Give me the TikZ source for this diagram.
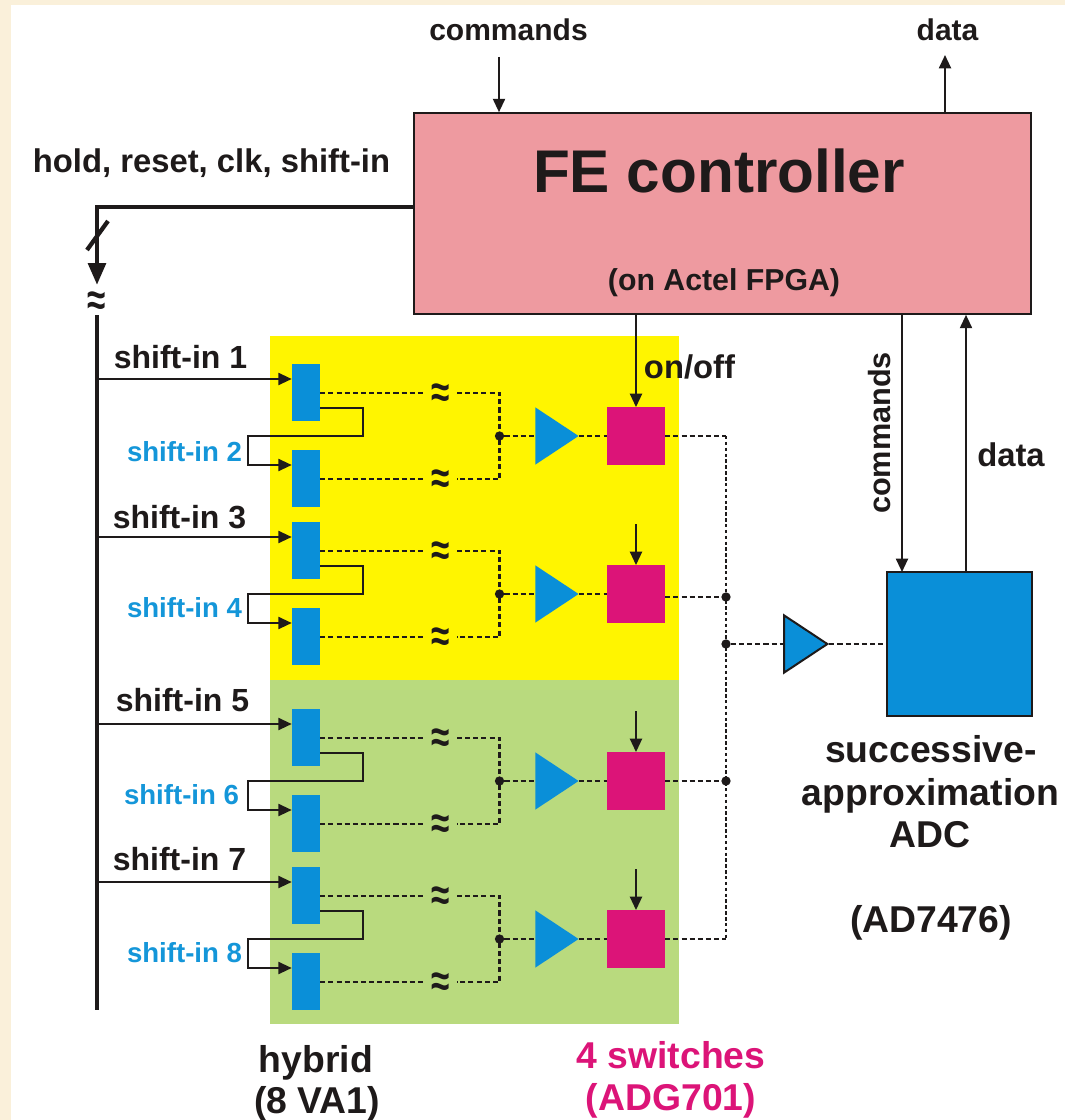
\documentclass[tikz,border=0pt]{standalone}
\usepackage{fontspec}
\setmainfont{Liberation Sans}
\usetikzlibrary{arrows.meta,shapes.geometric}
\definecolor{cream}{HTML}{FAF0DA}
\definecolor{fepink}{HTML}{EE9AA0}
\definecolor{ink}{HTML}{1E1A1A}
\definecolor{cblue}{HTML}{0A8FD8}
\definecolor{tblue}{HTML}{1496D9}
\definecolor{cmag}{HTML}{DC1478}
\definecolor{cyel}{HTML}{FFF500}
\definecolor{cgrn}{HTML}{B9DA7E}
\def\fsz#1{\fontsize{#1}{#1}\selectfont}
\def\apxglyph{\scalebox{1}[1.35]{≈}}
\tikzset{
 x=0.75pt,y=-0.75pt,
 lab/.style={anchor=base,inner sep=0,text=ink,font=\bfseries\fsz{24.6}},
 labtop/.style={lab,font=\bfseries\fsz{22.5}},
 labsh/.style={lab,font=\bfseries\fsz{24}},
 labblue/.style={lab,text=tblue,font=\bfseries\fsz{20.7}},
 labbig/.style={lab,font=\bfseries\fsz{28}},
 apx/.style={inner sep=0,text=ink,font=\bfseries\fsz{25}},
 hyb/.style={fill=cblue,inner sep=0,minimum width=21pt,minimum height=43pt},
 swbox/.style={fill=cmag,inner sep=0,minimum width=43.5pt,minimum height=43pt},
 ampl/.style={isosceles triangle,isosceles triangle apex angle=60,isosceles triangle stretches,shape border rotate=0,inner sep=0,minimum height=32.5pt,minimum width=43pt,fill=cblue,anchor=west},
 sig/.style={ink,line width=1.5pt,-{Triangle[length=10pt,width=9pt]}},
 dline/.style={ink,line width=1.8pt,dash pattern=on 3.8pt off 2.3pt},
 dlinev/.style={ink,line width=1.8pt,dash pattern=on 2.6pt off 1.8pt},
 jdot/.style={circle,fill=ink,inner sep=0,minimum size=7pt},
}
\begin{document}
\begin{tikzpicture}
\useasboundingbox (0,0) rectangle (1065,1120);
\fill[cream] (0,0) rectangle (1065,1120);
\fill[white] (11,5) rectangle (1065,1120);
\fill[cyel] (270,336) rectangle (679,680);
\fill[cgrn] (270,680) rectangle (679,1024);
% main blocks
\node[draw=ink,line width=1.2pt,fill=fepink,inner sep=0,minimum width=462.75pt,minimum height=150.75pt] (fe) at (722.5,213.5) {};
\node[lab,font=\bfseries\fsz{45.2}] (fetitle) at (719,192) {FE controller};
\node[lab,font=\bfseries\fsz{22.7}] (fesub) at (724,290) {(on Actel FPGA)};
\node[draw=ink,line width=1.5pt,fill=cblue,inner sep=0,minimum width=108.75pt,minimum height=108pt] (adc) at (959.5,644) {};
% top signals
\node[labtop] (tcmd) at (508.5,41) {commands};
\node[labtop] (tdata) at (947.5,41) {data};
\coordinate (cmdin) at (499,57);
\coordinate (dataout) at (945,55);
\draw[sig] (cmdin) -- (cmdin |- fe.north);
\draw[sig] (dataout |- fe.north) -- (dataout);
% control bus
\node[lab] (hold) at (211.5,172) {hold, reset, clk, shift-in};
\coordinate (buscorner) at (97,207);
\coordinate (bustip) at (97,285);
\draw[ink,line width=3.6pt,-{Triangle[length=16.5pt,width=13pt]}] (fe.west |- buscorner) -- (buscorner) -- (bustip);
\coordinate (sa) at (87,250);
\coordinate (sb) at (108,221);
\draw[ink,line width=3.2pt] (sa) -- (sb);
\node[apx] (busgap) at (97,304) {\apxglyph};
\coordinate (bustop) at (97,315);
\coordinate (busend) at (97,1010);
\draw[ink,line width=3.4pt] (bustop) -- (busend);
% hybrid groups
\foreach \g/\off/\la/\lb/\lax/\lay/\lbx/\lby in {
  1/0/1/2/180.5/368/184.5/461,
  2/158/3/4/179.5/528/184.5/617,
  3/345/5/6/182.5/711/181.5/804,
  4/503/7/8/179.5/870/184.5/962}{
  \pgfmathsetmacro\ya{379+\off}\pgfmathsetmacro\yb{465+\off}
  \pgfmathsetmacro\ha{392.5+\off}\pgfmathsetmacro\hb{478.5+\off}
  \pgfmathsetmacro\da{393+\off}\pgfmathsetmacro\db{479+\off}
  \pgfmathsetmacro\ea{396+\off}\pgfmathsetmacro\eb{482+\off}
  \pgfmathsetmacro\mm{436+\off}
  \pgfmathsetmacro\fa{407.5+\off}
  \pgfmathsetmacro\cy{\mm-70}
  \node[hyb] (h\la) at (306,\ha) {};
  \node[hyb] (h\lb) at (306,\hb) {};
  \node[labsh] (la\la) at (\lax,\lay) {shift-in \la};
  \node[labblue] (la\lb) at (\lbx,\lby) {shift-in \lb};
  \coordinate (b\la) at (97,\ya);
  \draw[sig] (b\la) -- (b\la -| h\la.west);
  \coordinate (fb\g a) at (362.5,\fa);
  \coordinate (fb\g b) at (362.5,\mm);
  \coordinate (fb\g c) at (248,\mm);
  \coordinate (fb\g d) at (248,\yb);
  \draw[sig] (fb\g a -| h\la.east) -- (fb\g a) -- (fb\g b) -- (fb\g c) -- (fb\g d) -- (fb\g d -| h\lb.west);
  \node[apx] (ap\g a) at (441,\ea) {\apxglyph};
  \node[apx] (ap\g b) at (441,\eb) {\apxglyph};
  \coordinate (j\g) at (499.5,\mm);
  \coordinate (ja\g) at (499.5,\da);
  \coordinate (jb\g) at (499.5,\db);
  \coordinate (ga\g) at (424,\da);
  \coordinate (gb\g) at (424,\db);
  \coordinate (gc\g) at (457,\da);
  \coordinate (gd\g) at (457,\db);
  \draw[dline] (ga\g -| h\la.east) -- (ga\g);
  \draw[dline] (gb\g -| h\lb.east) -- (gb\g);
  \draw[dline] (gc\g) -- (ja\g) -- (jb\g) -- (gd\g);
  \node[jdot] (jd\g) at (j\g) {};
  \node[ampl] (amp\g) at (535,\mm) {};
  \node[swbox] (sw\g) at (636,\mm) {};
  \draw[dline] (jd\g) -- (amp\g.west);
  \draw[dline] (amp\g.apex) -- (sw\g.west);
  \coordinate (ctl\g) at (636,\cy);
}
% switch controls
\draw[sig] (fe.south -| sw1.north) -- (sw1.north);
\draw[sig] (ctl2) -- (sw2.north);
\draw[sig] (ctl3) -- (sw3.north);
\draw[sig] (ctl4) -- (sw4.north);
\node[lab] (onoff) at (689.5,378) {on/off};
% summing line
\coordinate (st) at (726,436);
\coordinate (s2) at (726,597);
\node[jdot] (sj2) at (s2) {};
\node[jdot] (sjm) at (726,644) {};
\node[jdot] (sj3) at (726,781) {};
\coordinate (s4) at (sw4.east -| st);
\draw[dline] (sw1.east) -- (st);
\draw[dline] (sw2.east |- s2) -- (sj2);
\draw[dline] (sw3.east) -- (sj3);
\draw[dline] (sw4.east) -- (s4);
\draw[dlinev] (st) -- (s4);
\node[ampl,draw=ink,line width=1.5pt] (adcamp) at (783,644) {};
\draw[dline] (sjm) -- (adcamp.west);
\draw[dline] (adcamp.apex) -- (adc.west);
% ADC links
\coordinate (cx) at (902,572);
\coordinate (dx) at (966,572);
\draw[sig] (fe.south -| cx) -- (cx);
\draw[sig] (dx) -- (fe.south -| dx);
\node[lab,rotate=90,font=\bfseries\fsz{23}] (rcmd) at (890,433) {commands};
\node[lab] (rdata) at (1011,466) {data};
% captions
\node[labbig] (c1) at (931,762) {successive-};
\node[labbig] (c2) at (930.5,805) {approximation};
\node[labbig] (c3) at (930,847) {ADC};
\node[labbig] (c4) at (931,932) {(AD7476)};
\node[labbig] (c5) at (316,1072) {hybrid};
\node[labbig] (c6) at (317,1113) {(8 VA1)};
\node[labbig,text=cmag] (c7) at (671,1068) {4 switches};
\node[labbig,text=cmag] (c8) at (671,1110) {(ADG701)};
\end{tikzpicture}
\end{document}
